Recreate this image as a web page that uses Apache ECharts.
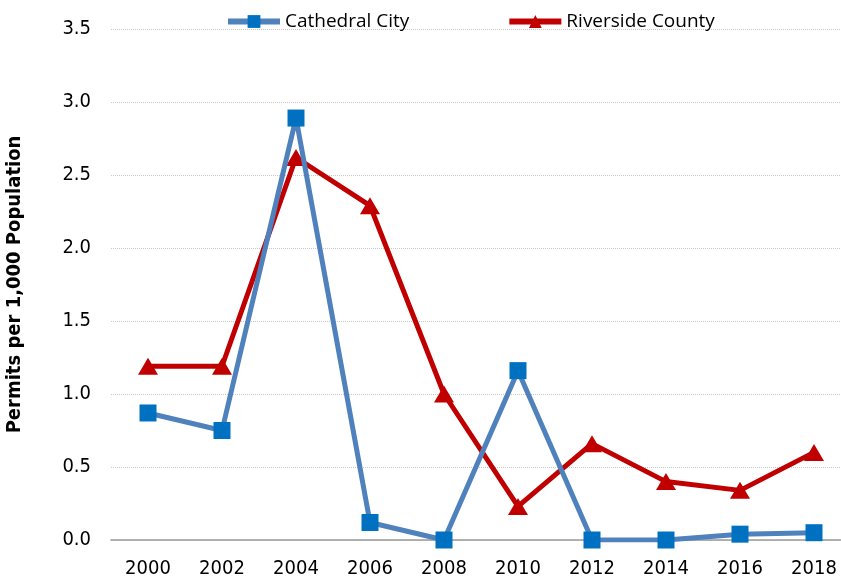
<!DOCTYPE html>
<html>
<head>
<meta charset="utf-8">
<script src="https://cdn.jsdelivr.net/npm/echarts@6/dist/echarts.min.js"></script>
<style>
  html, body { margin: 0; padding: 0; background: #fff; }
  #main { width: 841px; height: 585px; }
</style>
</head>
<body>
<div id="main"></div>
<script>
var years = ['2000', '2002', '2004', '2006', '2008', '2010', '2012', '2014', '2016', '2018'];
var cathedralCity = [0.87, 0.75, 2.89, 0.12, 0.0, 1.16, 0.0, 0.0, 0.04, 0.05];
var riversideCounty = [1.19, 1.19, 2.62, 2.29, 1.0, 0.23, 0.66, 0.40, 0.34, 0.60];

var narrow = 'DejaVu Sans Condensed, Liberation Sans, sans-serif';

var chart = echarts.init(document.getElementById('main'));

var option = {
    animation: false,
    legend: {
        top: 7,
        left: 220,
        itemGap: 97,
        itemWidth: 52,
        itemHeight: 16,
        textStyle: { fontFamily: 'Open Sans', fontSize: 19, color: '#000' },
        data: [
            { name: 'Cathedral City', lineStyle: { width: 6, color: '#4F81BD' } },
            { name: 'Riverside County', lineStyle: { width: 6, color: '#C00000' } }
        ]
    },
    grid: { left: 111, right: -10, top: 29, bottom: 45, outerBoundsMode: 'none', containLabel: false },
    xAxis: {
        type: 'category',
        data: years,
        boundaryGap: true,
        axisLine: { lineStyle: { color: '#9a9a9a', width: 1.5 } },
        axisTick: { show: false },
        axisLabel: { fontFamily: narrow, fontSize: 20, color: '#000', margin: 19 }
    },
    yAxis: {
        type: 'value',
        min: 0,
        max: 3.5,
        interval: 0.5,
        name: 'Permits per 1,000 Population',
        nameLocation: 'middle',
        nameGap: 86,
        nameTextStyle: { fontFamily: narrow, fontSize: 20, fontWeight: 'bold', color: '#000' },
        axisLine: { show: false },
        axisTick: { show: false },
        axisLabel: {
            fontFamily: narrow, fontSize: 20, color: '#000', margin: 20,
            formatter: function (v) { return v.toFixed(1); }
        },
        splitLine: { lineStyle: { color: '#c8c8c8', type: 'dotted', width: 1 } }
    },
    series: [
        {
            name: 'Cathedral City',
            type: 'line',
            data: cathedralCity,
            symbol: 'rect',
            symbolSize: 17,
            itemStyle: { color: '#0070C0' },
            lineStyle: { color: '#4F81BD', width: 5 },
            z: 3
        },
        {
            name: 'Riverside County',
            type: 'line',
            data: riversideCounty,
            symbol: 'triangle',
            symbolSize: [20, 17],
            itemStyle: { color: '#C00000' },
            lineStyle: { color: '#C00000', width: 5 },
            z: 2
        }
    ]
};

chart.setOption(option);
</script>
</body>
</html>
